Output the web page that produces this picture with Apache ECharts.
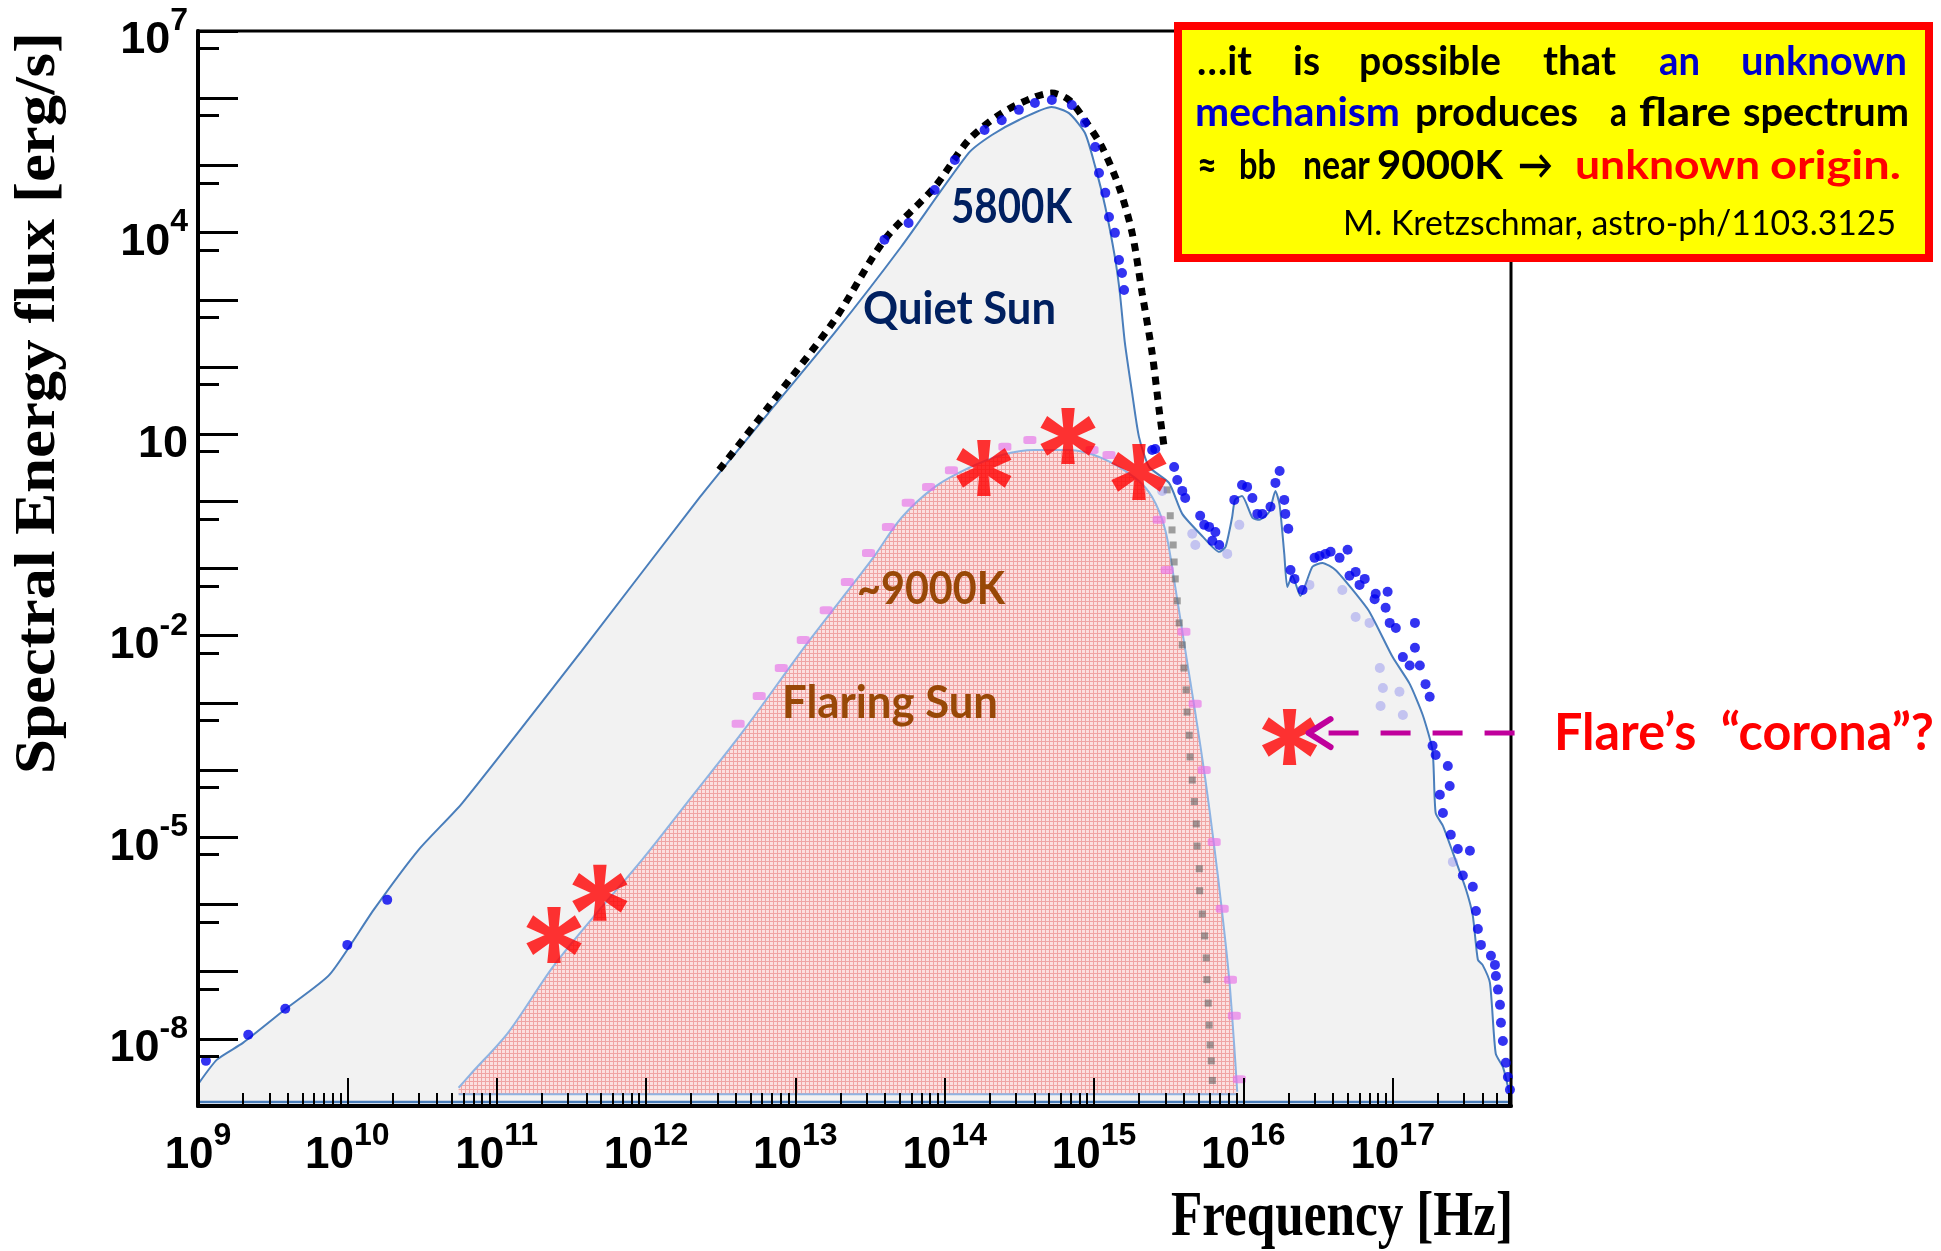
<!DOCTYPE html>
<html><head><meta charset="utf-8">
<script src="https://cdn.jsdelivr.net/npm/echarts@6/dist/echarts.min.js"></script>
<style>html,body{margin:0;padding:0;background:#fff}#c{width:1941px;height:1251px}</style>
</head><body><div id="c"></div>
<script>
// ---------- data (frequency [Hz], flux [erg/s]) ----------
const xLabelExponents = [9,10,11,12,13,14,15,16,17];
const yLabelExponents = [-8,-5,-2,1,4,7];

const quietSunCurve = [[1e9,2.1e-9],[1.34e9,4.9e-9],[2.0e9,8.7e-9],[3.8e9,2.7e-8],[7.6e9,9e-8],[1.5e10,8.3e-7],[3.0e10,6.5e-6],[5.9e10,3.25e-5],[3.7e11,5.9e-3],[2.3e12,1.16],[6.6e12,20.6],[1.83e13,320],[5.1e13,6.1e3],[1.45e14,1.53e5],[2.07e14,2.83e5],[3.14e14,4.74e5],[5.2e14,7.4e5],[6.8e14,6.0e5],[8.7e14,3.03e5],[1.02e15,9.5e4],[1.19e15,2.4e4],[1.38e15,4.3e3],[1.49e15,1.26e3],[1.61e15,228],[1.80e15,41],[2.0e15,9.1],[2.34e15,3.25],[3.18e15,1.88],[3.9e15,0.65],[5.3e15,0.305],[6.9e15,0.177],[7.6e15,0.21],[8.4e15,0.57],[8.8e15,1.05],[9.8e15,1.2],[1.15e16,0.57],[1.28e16,0.53],[1.49e16,0.70],[1.64e16,1.43],[1.75e16,0.88],[1.88e16,0.165],[1.97e16,0.053],[2.13e16,0.078],[2.41e16,0.039],[2.9e16,0.106],[3.39e16,0.121],[4.14e16,0.095],[5.4e16,0.048],[7.0e16,0.0226],[1.0e17,4.8e-3],[1.30e17,1.92e-3],[1.59e17,6.6e-4],[1.85e17,1.93e-4],[1.94e17,2.3e-5],[2.17e17,1.48e-5],[2.53e17,5.9e-6],[3.09e17,1.7e-6],[3.44e17,6.8e-7],[3.72e17,1.5e-7],[4.0e17,1.26e-7],[4.48e17,6.8e-8],[4.9e17,6e-9],[5.5e17,3.7e-9],[6.2e17,1.2e-9]];
const quietSunBase = [[1e9,1.15e-9],[6.2e17,1.15e-9]];

const flaringSunCurve = [[5.56e10,1.87e-9],[6.8e10,3.1e-9],[1.19e11,1.23e-8],[2.38e11,1.18e-7],[4.69e11,7.5e-7],[9.4e11,4.6e-6],[1.88e12,3.25e-5],[4.55e12,4.0e-4],[1.19e13,7.5e-3],[3.24e13,0.134],[5.14e13,0.57],[8.6e13,1.64],[1.45e14,3.14],[2.42e14,4.9],[4.0e14,5.8],[6.8e14,5.8],[1.13e15,4.4],[1.88e15,2.23],[2.45e15,1.16],[3.0e15,0.375],[3.5e15,0.053],[4.08e15,6.2e-3],[4.76e15,7.3e-4],[5.56e15,7.4e-5],[6.38e15,7.4e-6],[7.22e15,7.5e-7],[8.05e15,7.6e-8],[8.7e15,7.6e-9],[9.1e15,1.63e-9]];
const flaringSunBase = [[5.56e10,1.5e-9],[9.1e15,1.5e-9]];

const blackBody5800K = [[3.09e12,2.93],[6.6e12,25.4],[1.83e13,500],[3.96e13,7.8e3],[8.6e13,4.8e4],[1.45e14,2.39e5],[2.41e14,6.0e5],[4.0e14,1.04e6],[5.2e14,1.19e6],[6.8e14,9.4e5],[8.7e14,4.7e5],[1.13e15,1.88e5],[1.47e15,4.8e4],[1.80e15,9.9e3],[2.10e15,1.26e3],[2.45e15,161],[2.73e15,22.9],[2.95e15,6.4]];

const blackBodyTailMarks = [[3.09e15,1.48],[3.24e15,0.61],[3.33e15,0.375],[3.39e15,0.224],[3.44e15,0.125],[3.50e15,0.07],[3.61e15,0.033],[3.72e15,0.0155],[3.90e15,7.3e-3],[4.0e15,3.3e-3],[4.14e15,1.56e-3],[4.2e15,7.3e-4],[4.34e15,3.3e-4],[4.4e15,1.57e-4],[4.55e15,7.1e-5],[4.7e15,3.4e-5],[4.84e15,1.58e-5],[4.9e15,7.4e-6],[5.07e15,3.4e-6],[5.1e15,1.6e-6],[5.31e15,7.2e-7],[5.5e15,3.4e-7],[5.65e15,1.6e-7],[5.7e15,7.6e-8],[5.82e15,3.4e-8],[5.9e15,1.6e-8],[6.0e15,8.1e-9],[6.1e15,4.7e-9],[6.2e15,2.4e-9]];

const flare9000KMarks = [[4.14e12,4.9e-4],[5.73e12,1.27e-3],[8.05e12,3.3e-3],[1.13e13,8.65e-3],[1.61e13,0.024],[2.23e13,0.063],[3.09e13,0.17],[4.2e13,0.416],[5.7e13,0.95],[7.8e13,1.64],[1.11e14,2.9],[2.53e14,6.5],[3.72e14,8.2],[9.7e14,5.8],[1.26e15,4.9],[2.73e15,0.53],[3.09e15,0.095],[4.0e15,0.0114],[4.76e15,9.7e-4],[5.47e15,1.0e-4],[6.38e15,8.5e-6],[7.22e15,8.6e-7],[8.2e15,7.6e-8],[8.7e15,2.2e-8],[9.4e15,2.5e-9]];

const quietSunObserved = [[1.13e9,4.7e-9],[2.17e9,1.15e-8],[3.84e9,2.8e-8],[1.0e10,2.5e-7],[1.85e10,1.17e-6],
[3.95e13,7.8e3],[5.73e13,1.39e4],[8.57e13,4.3e4],[1.17e14,1.2e5],[1.85e14,3.37e5],[2.41e14,4.7e5],[3.14e14,6.7e5],[4.02e14,8.5e5],[5.22e14,9.4e5],[7.1e14,7.9e5],[8.7e14,4.3e5],[1.02e15,1.88e5],[1.08e15,7.7e4],[1.19e15,3.9e4],[1.26e15,1.7e4],[1.38e15,9.9e3],[1.47e15,3.9e3],[1.54e15,2.5e3],[1.59e15,1.4e3],
[2.45e15,5.8],[2.57e15,6.0],[3.44e15,3.25],[3.61e15,2.08],[3.9e15,1.43],[4.08e15,1.12],[5.14e15,0.61],[5.47e15,0.446],[5.9e15,0.416],[6.5e15,0.35],[6.2e15,0.258],[6.9e15,0.224],[8.7e15,1.05],[9.8e15,1.75],[1.06e16,1.64],[1.15e16,1.12],[1.24e16,0.65],[1.34e16,0.65],[1.52e16,0.83],[1.64e16,1.88],[1.75e16,2.83],[1.88e16,1.05],[1.91e16,0.65],[2.0e16,0.39],[2.07e16,0.095],[2.2e16,0.07],[2.49e16,0.048],[3.0e16,0.144],[3.24e16,0.154],[3.55e16,0.165],[3.84e16,0.177],[4.41e16,0.144],[4.99e16,0.19],[5.14e16,0.078],[5.65e16,0.089],[6.0e16,0.057],[6.5e16,0.07],[7.57e16,0.035],[7.7e16,0.042],[9.25e16,0.045],[8.97e16,0.026],[9.55e16,0.0155],[1.05e17,0.013],[1.17e17,4.8e-3],[1.41e17,0.0155],[1.41e17,6.6e-3],[1.30e17,3.6e-3],[1.52e17,3.6e-3],[1.66e17,1.9e-3],[1.77e17,1.23e-3],[1.85e17,2.3e-4],[1.94e17,1.68e-4],[2.34e17,1.15e-4],[2.41e17,5.8e-5],[2.07e17,4.3e-5],[2.17e17,2.3e-5],[2.45e17,1.09e-5],[2.73e17,6.7e-6],[3.29e17,6.3e-6],[2.95e17,2.7e-6],[3.44e17,1.83e-6],[3.61e17,8e-7],[3.72e17,4.3e-7],[3.9e17,2.5e-7],[4.55e17,1.72e-7],[4.84e17,1.26e-7],[4.91e17,8.6e-8],[5.07e17,5.4e-8],[5.23e17,3.2e-8],[5.31e17,1.73e-8],[5.47e17,9.3e-9],[5.73e17,4.4e-9],[5.91e17,2.7e-9],[6.1e17,1.74e-9]];

const quietSunFaint = [[2.86e15,1.43],[4.55e15,0.33],[4.77e15,0.224],[7.8e15,0.165],[9.4e15,0.446],[2.77e16,0.057],[4.6e16,0.048],[5.65e16,0.019],[7.0e16,0.0155],[8.2e16,3.3e-3],[8.6e16,1.67e-3],[8.3e16,9e-4],[1.11e17,1.46e-3],[1.17e17,6.6e-4],[2.53e17,4.3e-6]];

const flareMeasurements = [[2.42e11,3.5e-7],[4.91e11,1.49e-6],[1.83e14,3.14],[6.7e14,9.4],[2.0e15,2.74],[2.04e16,3.1e-4]];

// ---------- styling ----------
const SANS = "'Liberation Sans', Arial, sans-serif";
const SERIF = "'Liberation Serif', 'Times New Roman', serif";
const LATO = "Lato, 'Open Sans', 'DejaVu Sans', sans-serif";
const ASTERISK = 'path://M38 0 L62 0 L57 50 L62 100 L38 100 L43 50 Z M87.3 14.61 L99.3 35.39 L53.5 56.06 L12.7 85.39 L0.7 64.61 L46.5 43.94 Z M99.3 64.61 L87.3 85.39 L46.5 56.06 L0.7 35.39 L12.7 14.61 L53.5 43.94 Z';

function pinkPattern(){
  const c = document.createElement('canvas'); c.width = 4; c.height = 4;
  const g = c.getContext('2d');
  g.fillStyle = '#fbe0e0'; g.fillRect(0,0,4,4);
  g.fillStyle = '#f0a4a4'; g.fillRect(0,1,4,1); g.fillRect(1,0,1,4);
  return c;
}

function expOf(v){ const l = Math.log10(v); const e = Math.round(l); return Math.abs(l-e) < 0.01 ? e : null; }

const chart = echarts.init(document.getElementById('c'));

const option = {
  animation: false,
  backgroundColor: '#fff',
  grid: {left:198, top:31, width:1313, height:1075, show:true, borderColor:'#000', borderWidth:3, backgroundColor:'#fff'},
  xAxis: {
    type:'log', logBase:10, min:1e9, max:6.2e17, interval:1, z:7,
    axisLine:{lineStyle:{color:'#000', width:4}},
    axisTick:{inside:true, length:28, lineStyle:{color:'#000', width:2}},
    minorTick:{show:true, splitNumber:9, length:13, lineStyle:{color:'#000', width:2}},
    splitLine:{show:false}, minorSplitLine:{show:false},
    axisLabel:{margin:14, color:'#000',
      formatter: v => { const e = expOf(v); return (e !== null && xLabelExponents.includes(e)) ? '{b|10}{s|' + e + '}' : ''; },
      rich:{ b:{fontFamily:SANS, fontWeight:'bold', fontSize:44, lineHeight:72, color:'#000'},
             s:{fontFamily:SANS, fontWeight:'bold', fontSize:32, lineHeight:32, verticalAlign:'top', color:'#000'} } }
  },
  yAxis: {
    type:'log', logBase:10, min:1e-9, max:1e7, interval:1, z:7,
    axisLine:{lineStyle:{color:'#000', width:4}},
    axisTick:{inside:true, length:40, lineStyle:{color:'#000', width:3}},
    minorTick:{show:true, splitNumber:2, length:21, lineStyle:{color:'#000', width:3}},
    splitLine:{show:false}, minorSplitLine:{show:false},
    axisLabel:{margin:10, color:'#000', padding:[20,0,0,0],
      formatter: v => { const e = expOf(v); if (e === null || !yLabelExponents.includes(e)) return ''; return e === 1 ? '{b|10}' : '{b|10}{s|' + e + '}'; },
      rich:{ b:{fontFamily:SANS, fontWeight:'bold', fontSize:45, lineHeight:72, color:'#000'},
             s:{fontFamily:SANS, fontWeight:'bold', fontSize:32, lineHeight:32, verticalAlign:'top', color:'#000'} } }
  },
  series: [
    {name:'Quiet Sun', type:'line', data:quietSunCurve, symbol:'none', smooth:0.2, z:1,
     lineStyle:{color:'#4a7ebb', width:2}, areaStyle:{color:'#f2f2f2', opacity:1, origin:1.15e-9}},
    {type:'line', data:quietSunBase, symbol:'none', z:3, lineStyle:{color:'#4a7ebb', width:2.5}},
    {name:'Flaring Sun', type:'line', data:flaringSunCurve, symbol:'none', smooth:0.3, z:2,
     lineStyle:{color:'#8fb4e3', width:2}, areaStyle:{color:{image:pinkPattern(), repeat:'repeat'}, opacity:1, origin:1.5e-9}},
    {type:'line', data:flaringSunBase, symbol:'none', z:3, lineStyle:{color:'#8fb4e3', width:2}},
    {type:'scatter', data:flare9000KMarks, symbol:'roundRect', symbolSize:[13,8], z:4,
     itemStyle:{color:'rgba(232,110,232,0.8)'}},
    {type:'scatter', data:blackBodyTailMarks, symbol:'rect', symbolSize:[7,7], z:4,
     itemStyle:{color:'rgba(100,100,100,0.75)'}},
    {name:'5800K', type:'line', data:blackBody5800K, symbol:'none', smooth:0.3, z:5,
     lineStyle:{color:'#000', width:7, type:[8,7], cap:'butt'}},
    {type:'scatter', data:quietSunFaint, symbolSize:10, z:5, itemStyle:{color:'rgba(110,110,235,0.45)'}},
    {type:'scatter', data:quietSunObserved, symbolSize:10, z:6, itemStyle:{color:'#0000ee'}},
    {type:'scatter', data:flareMeasurements, symbol:ASTERISK, symbolSize:56, symbolKeepAspect:true, z:8,
     itemStyle:{color:'#ff0000'}}
  ]
};
chart.setOption(option);

// ---------- text annotations ----------
const mctx = document.createElement('canvas').getContext('2d');
function T(text, left, right, cy, size, weight, color, family, z){
  mctx.font = weight + ' ' + size + 'px ' + family;
  const w = mctx.measureText(text).width;
  return {type:'text', x:left, y:cy, scaleX:(right-left)/w, z:z||100,
    style:{text:text, fill:color, fontSize:size, fontWeight:weight, fontFamily:family, align:'left', verticalAlign:'middle'}};
}
const BLUE = '#0000cc', RED = '#ff0000', NAVY = '#002060', BROWN = '#984807', BLK = '#000';
const g = [];
// yellow box
g.push({type:'rect', z:90, shape:{x:1178, y:26, width:751, height:232}, style:{fill:'#ffff00', stroke:'#ff0000', lineWidth:8}});
const boxWords = [
  ['\u2026it',1197,1252,62,BLK],['is',1293,1320,62,BLK],['possible',1359,1501,62,BLK],['that',1543,1616,62,BLK],['an',1659,1700,62,BLUE],['unknown',1741,1907,62,BLUE],
  ['mechanism',1195,1400,113,BLUE],['produces',1415,1578,113,BLK],['a',1610,1627,113,BLK],['flare',1639,1731,113,BLK],['spectrum',1743,1909,113,BLK],
  ['\u2248',1197,1217,166,BLK],['bb',1239,1276,166,BLK],['near',1303,1370,166,BLK],['9000K',1377,1503,166,BLK],['\u2192',1518,1553,166,BLK],['unknown',1575,1760,166,RED],['origin.',1770,1901,166,RED]
];
boxWords.forEach(w => g.push(T(w[0], w[1], w[2], w[3], 40, 'bold', w[4], LATO)));
g.push(T('M. Kretzschmar, astro-ph/1103.3125', 1343, 1896, 224, 35, 'normal', BLK, LATO));
// in-plot labels
g.push(T('5800K', 951, 1072, 208, 47, 'bold', NAVY, LATO));
g.push(T('Quiet Sun', 863, 1056, 309, 45, 'bold', NAVY, LATO));
g.push(T('~9000K', 857, 1005, 589, 45, 'bold', BROWN, LATO));
g.push(T('Flaring Sun', 782, 998, 703, 45, 'bold', BROWN, LATO));
g.push(T('Flare\u2019s  \u201Ccorona\u201D?', 1554, 1934, 733, 52, 'bold', RED, LATO));
// axis titles
(function(){
  mctx.font = 'bold 56px ' + SERIF;
  const wy = mctx.measureText('Spectral Energy flux [erg/s]').width;
  g.push({type:'text', x:40, y:403, rotation:Math.PI/2, scaleX:742/wy, z:100,
    style:{text:'Spectral Energy flux [erg/s]', fill:'#000', fontSize:56, fontWeight:'bold', fontFamily:SERIF, align:'center', verticalAlign:'middle'}});
  mctx.font = 'bold 64px ' + SERIF;
  const wx = mctx.measureText('Frequency [Hz]').width;
  g.push({type:'text', x:1342, y:1218, scaleX:342/wx, z:100,
    style:{text:'Frequency [Hz]', fill:'#000', fontSize:64, fontWeight:'bold', fontFamily:SERIF, align:'center', verticalAlign:'middle'}});
})();
// arrow from the corona measurement to its label
(function(){
  const p = chart.convertToPixel({gridIndex:0}, flareMeasurements[flareMeasurements.length-1]);
  const tipX = p[0] + 19, y = p[1] - 4;
  g.push({type:'polyline', z:95, shape:{points:[[tipX+22,y-14],[tipX,y],[tipX+22,y+14]]}, style:{stroke:'#c0009c', lineWidth:6, fill:null, lineCap:'round', lineJoin:'round'}});
  g.push({type:'line', z:95, shape:{x1:tipX+20, y1:y, x2:1535, y2:y}, style:{stroke:'#c0009c', lineWidth:5, lineDash:[30,22]}});
})();
chart.setOption({graphic:{elements:g}});
</script>
</body></html>
